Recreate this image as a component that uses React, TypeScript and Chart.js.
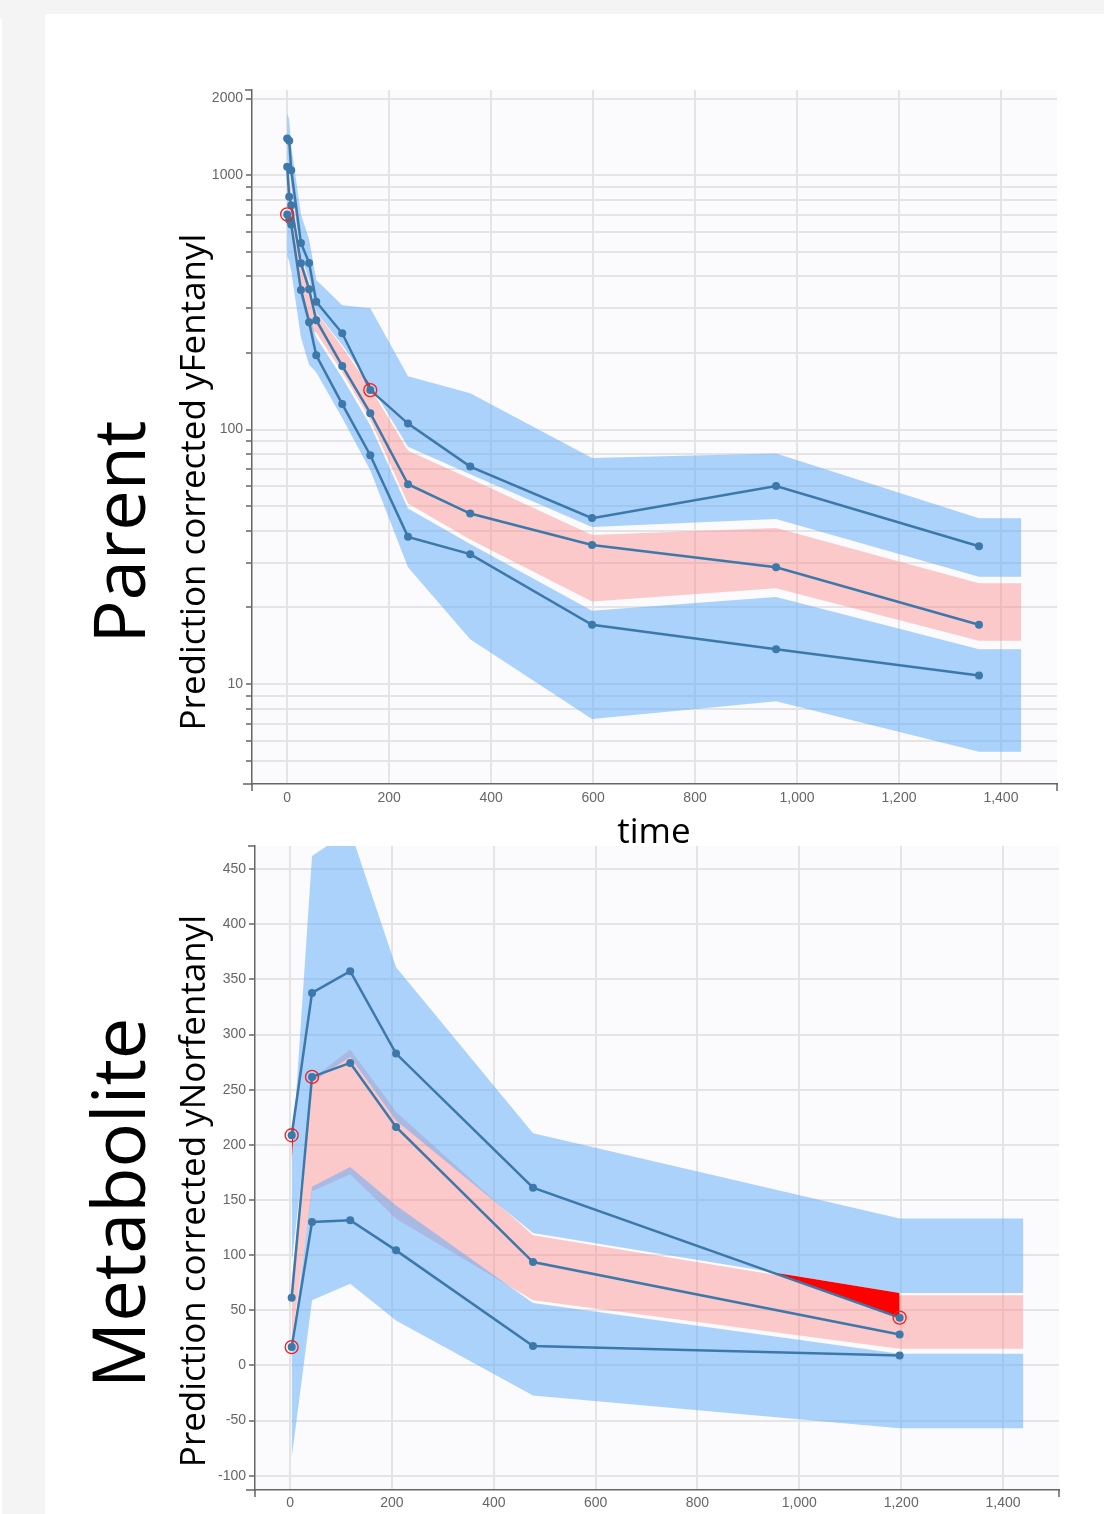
import React, { useEffect, useRef } from "react";
import { Chart, registerables } from "chart.js";

Chart.register(...registerables);

// ---------------- Parent (yFentanyl), log scale ----------------
const P_TIME = [0, 4, 8, 27, 43, 57, 108, 163, 237, 359, 598, 959, 1357];
const P_P90 = [1394, 1364, 1046, 541, 452, 318, 239, 143, 105.6, 71.6, 44.9, 60.0, 34.8];
const P_P50 = [1078, 822, 762, 450, 356, 269, 178, 116, 61, 46.8, 35.2, 28.8, 17.1];
const P_P10 = [701, 666, 640, 354, 264, 196, 126, 79.3, 37.9, 32.4, 17.1, 13.7, 10.8];
const P_HI_UP = [1750, 1650, 1300, 700, 560, 387, 308, 300, 162, 139, 77.3, 80.6, 44.8];
const P_HI_LO = [1150, 1100, 900, 480, 390, 290, 215, 150, 85.6, 66.8, 41.4, 44.5, 26.4];
const P_MED_UP = [1120, 1000, 850, 470, 380, 289, 211, 146, 82.5, 64.1, 38.5, 41.1, 24.9];
const P_MED_LO = [760, 720, 680, 330, 250, 240, 168, 109, 51.3, 37.0, 21.1, 23.8, 14.8];
const P_LOW_UP = [690, 680, 660, 370, 280, 230, 160, 104, 49, 35.5, 19.4, 22.0, 13.7];
const P_LOW_LO = [480, 460, 420, 230, 180, 168, 111, 69.3, 28.8, 15.0, 7.3, 8.57, 5.42];
const P_Y_MIN = 4.05;
const P_Y_MAX = 2160;
const P_Y_TICKS = [5, 6, 7, 8, 9, 10, 20, 30, 40, 50, 60, 70, 80, 90, 100, 200, 300, 400, 500, 600, 700, 800, 900, 1000, 2000];
const P_Y_LABELS = [10, 100, 1000, 2000];

// ---------------- Metabolite (yNorfentanyl), linear scale ----------------
const M_TIME = [3, 43, 118, 208, 477, 1197];
const M_P90 = [208.7, 337.8, 357.5, 282.8, 161.2, 43.3];
const M_P50 = [61.4, 261.6, 274.3, 216.2, 93.7, 28.1];
const M_P10 = [16.6, 130.0, 131.6, 104.3, 17.5, 9.07];
const M_HI_UP = [185, 462, 485, 361, 210.5, 133.1];
const M_HI_LO = [92, 257, 279.7, 222, 120, 65.6];
const M_MED_UP = [75, 260, 286.4, 230, 118, 63.5];
const M_MED_LO = [22, 158, 173.4, 133, 59, 15.1];
const M_LOW_UP = [14, 162, 180, 145, 56.5, 10.6];
const M_LOW_LO = [-84, 59, 74.1, 40.8, -27.2, -56.9];
const M_Y_MIN = -113;
const M_Y_MAX = 471;
const M_Y_TICKS = [-100, -50, 0, 50, 100, 150, 200, 250, 300, 350, 400, 450];

// ---------------- shared ----------------
const X_MIN = -69;
const X_MAX = 1510;
const X_TICKS = [0, 200, 400, 600, 800, 1000, 1200, 1400];
const BAND_END = 1440;

const LINE_COLOR = "#3d78aa";
const BLUE = "rgba(90,170,250,0.5)";
const PINK = "rgba(250,140,140,0.45)";
const RED = "#ff0000";
const GRID = "#e4e4e4";
const AXIS = "#666666";
const TICK_COLOR = "#666666";
const PLOT_BG = "#fbfbfd";
const TICK_FONT = { family: '"Liberation Sans", Arial, sans-serif', size: 14 };
const NONE = "rgba(0,0,0,0)";

type Pt = { x: number; y: number };
type Panel = {
  time: number[];
  p90: number[];
  p50: number[];
  p10: number[];
  hiUp: number[];
  hiLo: number[];
  medUp: number[];
  medLo: number[];
  lowUp: number[];
  lowLo: number[];
  log: boolean;
};

function ext(time: number[], v: number[]): Pt[] {
  const pts = time.map((x, i) => ({ x, y: v[i] }));
  pts.push({ x: BAND_END, y: v[v.length - 1] });
  return pts;
}

// areas where an observed percentile lies outside its prediction interval
function outsidePolys(time: number[], obs: number[], edge: number[], above: boolean, log: boolean) {
  const tf = (v: number) => (log ? Math.log10(v) : v);
  const itf = (v: number) => (log ? Math.pow(10, v) : v);
  const out: { a: Pt[]; b: Pt[] }[] = [];
  for (let i = 0; i < time.length - 1; i++) {
    const d0 = above ? obs[i] - edge[i] : edge[i] - obs[i];
    const d1 = above ? obs[i + 1] - edge[i + 1] : edge[i + 1] - obs[i + 1];
    if (d0 <= 0 && d1 <= 0) continue;
    if (d0 > 0 && d1 > 0) {
      out.push({
        a: [{ x: time[i], y: edge[i] }, { x: time[i + 1], y: edge[i + 1] }],
        b: [{ x: time[i], y: obs[i] }, { x: time[i + 1], y: obs[i + 1] }],
      });
      continue;
    }
    const a0 = tf(obs[i]), a1 = tf(obs[i + 1]), b0 = tf(edge[i]), b1 = tf(edge[i + 1]);
    const s = (a0 - b0) / (a0 - b0 - (a1 - b1));
    const tc = time[i] + s * (time[i + 1] - time[i]);
    const vc = itf(a0 + s * (a1 - a0));
    if (d0 > 0) {
      out.push({
        a: [{ x: time[i], y: edge[i] }, { x: tc, y: vc }],
        b: [{ x: time[i], y: obs[i] }, { x: tc, y: vc }],
      });
    } else {
      out.push({
        a: [{ x: tc, y: vc }, { x: time[i + 1], y: edge[i + 1] }],
        b: [{ x: tc, y: vc }, { x: time[i + 1], y: obs[i + 1] }],
      });
    }
  }
  return out;
}

function buildDatasets(p: Panel) {
  const ds: any[] = [];
  const pts = (v: number[]) => p.time.map((x, i) => ({ x, y: v[i] }));
  const percs: [number[], number[], number[]][] = [
    [p.p90, p.hiUp, p.hiLo],
    [p.p50, p.medUp, p.medLo],
    [p.p10, p.lowUp, p.lowLo],
  ];
  const flagged: Pt[] = [];
  percs.forEach(([o, u, l]) =>
    o.forEach((v, i) => {
      if (v > u[i] || v < l[i]) flagged.push({ x: p.time[i], y: v });
    })
  );
  ds.push({
    data: flagged,
    showLine: false,
    borderColor: NONE,
    borderWidth: 0,
    pointRadius: 6.5,
    pointBorderColor: "#f02020",
    pointBorderWidth: 1.3,
    pointBackgroundColor: NONE,
    fill: false,
  });
  for (const o of [p.p90, p.p50, p.p10]) {
    ds.push({
      data: pts(o),
      borderColor: LINE_COLOR,
      borderWidth: 2.5,
      pointRadius: 4,
      pointBackgroundColor: LINE_COLOR,
      pointBorderWidth: 0,
      fill: false,
    });
  }
  for (const [o, u, l] of percs) {
    const polys = [...outsidePolys(p.time, o, u, true, p.log), ...outsidePolys(p.time, o, l, false, p.log)];
    for (const poly of polys) {
      ds.push({ data: poly.a, borderColor: NONE, borderWidth: 0, pointRadius: 0, fill: "+1", backgroundColor: RED });
      ds.push({ data: poly.b, borderColor: NONE, borderWidth: 0, pointRadius: 0, fill: false });
    }
  }
  const band = (hi: number[], lo: number[], color: string) => {
    ds.push({ data: ext(p.time, hi), borderColor: NONE, borderWidth: 0, pointRadius: 0, fill: "+1", backgroundColor: color });
    ds.push({ data: ext(p.time, lo), borderColor: NONE, borderWidth: 0, pointRadius: 0, fill: false });
  };
  band(p.hiUp, p.hiLo, BLUE);
  band(p.lowUp, p.lowLo, BLUE);
  band(p.medUp, p.medLo, PINK);
  return ds;
}

const plotBg = {
  id: "plotBg",
  beforeDraw(chart: any) {
    const { ctx, chartArea } = chart;
    ctx.save();
    ctx.fillStyle = PLOT_BG;
    ctx.fillRect(chartArea.left, chartArea.top, chartArea.right - chartArea.left, chartArea.bottom - chartArea.top);
    ctx.restore();
  },
};

const axisEnds = {
  id: "axisEnds",
  afterDraw(chart: any) {
    const { ctx } = chart;
    const { left, right, top, bottom } = chart.chartArea;
    ctx.save();
    ctx.strokeStyle = AXIS;
    ctx.lineWidth = 1.5;
    ctx.beginPath();
    ctx.moveTo(left - 9, bottom);
    ctx.lineTo(left, bottom);
    ctx.moveTo(left, bottom);
    ctx.lineTo(left, bottom + 7);
    ctx.moveTo(right, bottom);
    ctx.lineTo(right, bottom + 7);
    ctx.moveTo(left - 7, top);
    ctx.lineTo(left, top);
    ctx.stroke();
    ctx.restore();
  },
};

type Layout = { padTop: number; padRight: number; yWidth: number; xHeight: number; xPad: number };

function makeConfig(p: Panel, lay: Layout, yMin: number, yMax: number, yTicks: number[], yLabel: (v: number) => string) {
  return {
    type: "line",
    data: { datasets: buildDatasets(p) },
    options: {
      animation: false,
      responsive: false,
      events: [],
      layout: { padding: { top: lay.padTop, right: lay.padRight, left: 0, bottom: 0 } },
      plugins: {
        legend: { display: false },
        tooltip: { enabled: false },
        filler: { drawTime: "beforeDatasetsDraw" },
      },
      scales: {
        x: {
          type: "linear",
          min: X_MIN,
          max: X_MAX,
          afterBuildTicks: (s: any) => {
            s.ticks = X_TICKS.map((v) => ({ value: v }));
          },
          afterFit: (s: any) => {
            s.height = lay.xHeight;
          },
          grid: { color: GRID, lineWidth: 2, drawTicks: false },
          border: { color: AXIS, width: 1.5 },
          ticks: {
            autoSkip: false,
            maxRotation: 0,
            padding: lay.xPad,
            color: TICK_COLOR,
            font: TICK_FONT,
            callback: (v: any) => Number(v).toLocaleString("en-US"),
          },
        },
        y: {
          type: p.log ? "logarithmic" : "linear",
          min: yMin,
          max: yMax,
          afterBuildTicks: (s: any) => {
            s.ticks = yTicks.map((v) => ({ value: v }));
          },
          afterFit: (s: any) => {
            s.width = lay.yWidth;
          },
          grid: { color: GRID, lineWidth: 2, drawTicks: true, tickLength: 6, tickColor: AXIS, tickWidth: 1.5 },
          border: { color: AXIS, width: 1.5 },
          ticks: {
            autoSkip: false,
            padding: 3,
            color: TICK_COLOR,
            font: TICK_FONT,
            callback: (v: any) => yLabel(Number(v)),
          },
        },
      },
    },
    plugins: [plotBg, axisEnds],
  };
}

const parentPanel: Panel = {
  time: P_TIME, p90: P_P90, p50: P_P50, p10: P_P10,
  hiUp: P_HI_UP, hiLo: P_HI_LO, medUp: P_MED_UP, medLo: P_MED_LO, lowUp: P_LOW_UP, lowLo: P_LOW_LO,
  log: true,
};
const metabPanel: Panel = {
  time: M_TIME, p90: M_P90, p50: M_P50, p10: M_P10,
  hiUp: M_HI_UP, hiLo: M_HI_LO, medUp: M_MED_UP, medLo: M_MED_LO, lowUp: M_LOW_UP, lowLo: M_LOW_LO,
  log: false,
};

function ChartCanvas({ build, left, top, width, height }: { build: () => any; left: number; top: number; width: number; height: number }) {
  const ref = useRef<HTMLCanvasElement>(null);
  useEffect(() => {
    const chart = new Chart(ref.current as HTMLCanvasElement, build());
    return () => chart.destroy();
  }, []);
  return <canvas ref={ref} width={width} height={height} style={{ position: "absolute", left, top, width, height }} />;
}

const TITLE_FONT = '"Open Sans", "Noto Sans", sans-serif';

function VText({ text, cx, cy, size }: { text: string; cx: number; cy: number; size: number }) {
  return (
    <div
      style={{
        position: "absolute",
        left: cx,
        top: cy,
        transform: "translate(-50%,-50%) rotate(-90deg)",
        fontFamily: TITLE_FONT,
        fontSize: size,
        lineHeight: 1,
        whiteSpace: "nowrap",
        color: "#000",
      }}
    >
      {text}
    </div>
  );
}

export default function App() {
  return (
    <div style={{ position: "absolute", left: 0, top: 0, width: 1104, height: 1514, background: "#f4f4f4", overflow: "hidden" }}>
      <div style={{ position: "absolute", left: 45, top: 14, right: 0, bottom: 0, background: "#ffffff" }} />
      <div style={{ position: "absolute", left: 0, top: 19, width: 2, bottom: 0, background: "#ffffff" }} />
      <ChartCanvas
        left={200}
        top={50}
        width={880}
        height={780}
        build={() =>
          makeConfig(parentPanel, { padTop: 40, padRight: 23, yWidth: 52, xHeight: 46, xPad: 6 }, P_Y_MIN, P_Y_MAX, P_Y_TICKS, (v) =>
            P_Y_LABELS.includes(v) ? String(v) : ""
          )
        }
      />
      <ChartCanvas
        left={200}
        top={830}
        width={880}
        height={684}
        build={() =>
          makeConfig(metabPanel, { padTop: 16, padRight: 21, yWidth: 55, xHeight: 24, xPad: 5 }, M_Y_MIN, M_Y_MAX, M_Y_TICKS, (v) => String(v))
        }
      />
      <VText text="Parent" cx={117} cy={532} size={72} />
      <VText text="Prediction corrected yFentanyl" cx={191} cy={482} size={35} />
      <VText text="Metabolite" cx={117} cy={1203} size={74} />
      <VText text="Prediction corrected yNorfentanyl" cx={191} cy={1191} size={35} />
      <div
        style={{
          position: "absolute",
          left: 654,
          top: 829,
          transform: "translate(-50%,-50%)",
          fontFamily: TITLE_FONT,
          fontSize: 35,
          lineHeight: 1,
          whiteSpace: "nowrap",
          color: "#000",
        }}
      >
        time
      </div>
    </div>
  );
}
